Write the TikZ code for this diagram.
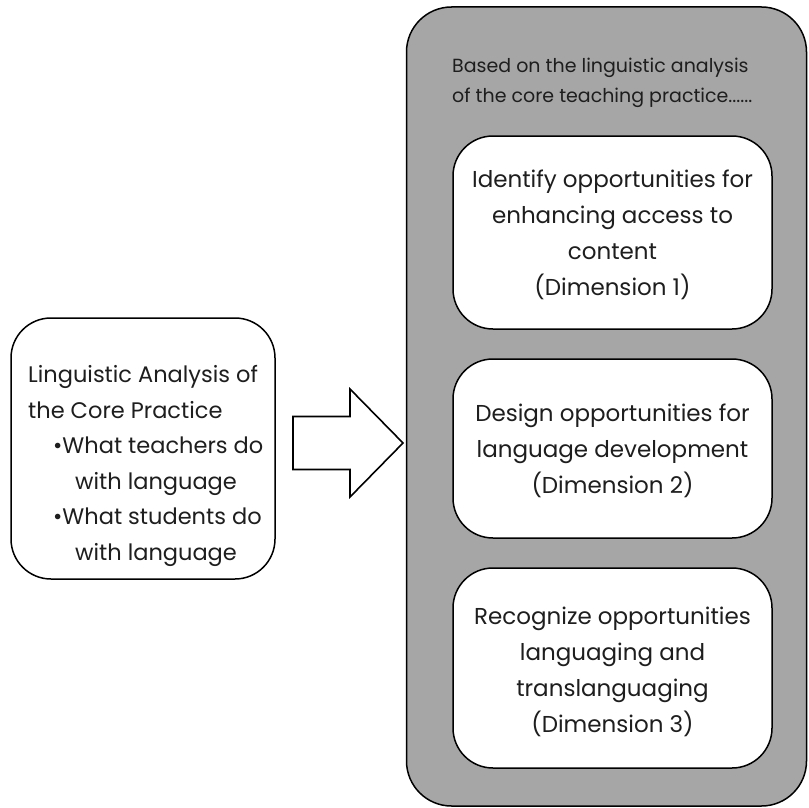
\documentclass[tikz,border=0pt]{standalone}
\usepackage{fontspec}
\setmainfont{Poppins}
\definecolor{panelgray}{HTML}{A6A6A6}
\definecolor{ink}{HTML}{1E1E1E}
\tikzset{
  panel/.style={draw=black, line width=1.5pt, fill=panelgray, rounded corners=45pt,
    inner sep=0pt},
  dimbox/.style={draw=black, line width=1.5pt, fill=white, rounded corners=40pt,
    minimum width=319pt, inner sep=0pt},
  srcbox/.style={draw=black, line width=1.5pt, fill=white, rounded corners=40pt,
    inner sep=0pt},
  boxtext/.style={align=center, text=ink, inner sep=0pt, anchor=base,
    font=\fontsize{23}{35.7}\selectfont},
  leadtext/.style={align=left, text=ink, inner sep=0pt, anchor=base west,
    font=\fontsize{19}{29}\selectfont},
  blockarrow/.style={draw=black, line width=1.6pt, fill=white, line join=miter}
}
\begin{document}
\begin{tikzpicture}[x=1pt, y=-1pt]
  \useasboundingbox (0,0) rectangle (808,808);

  % right-hand panel with the three dimensions
  \node[panel, minimum width=400pt, minimum height=799pt] (panel) at (606.5,406.5) {};
  \node[leadtext] (lead) at (452,102)
    {Based on the linguistic analysis\\of the core teaching practice......};

  \node[dimbox, minimum height=193pt] (dim1) at (612.5,232.5) {};
  \node[boxtext] (dim1t) at (612.5,295)
    {Identify opportunities for\\enhancing access to\\content\\(Dimension 1)};

  \node[dimbox, minimum height=179pt] (dim2) at (612.5,448.5) {};
  \node[boxtext] (dim2t) at (612.5,493)
    {Design opportunities for\\language development\\(Dimension 2)};

  \node[dimbox, minimum height=200pt] (dim3) at (612.5,668) {};
  \node[boxtext] (dim3t) at (612.5,732)
    {Recognize opportunities\\languaging and\\translanguaging\\(Dimension 3)};

  % source box on the left
  \node[srcbox, minimum width=264pt, minimum height=261pt] (src) at (143,448.5) {};
  \node[boxtext, align=left, anchor=base west,
        font=\fontsize{22.5}{35.5}\selectfont] (srct) at (28,560)
    {Linguistic Analysis of\\
     the Core Practice\\
     \hspace*{25pt}•What teachers do\\
     \hspace*{47pt}with language\\
     \hspace*{25pt}•What students do\\
     \hspace*{47pt}with language};

  % block arrow from the analysis to the panel
  \draw[blockarrow] (293,416.5) -- (350,416.5) -- (350,389) -- (403,443)
    -- (350,497) -- (350,469.5) -- (293,469.5) -- cycle;
\end{tikzpicture}
\end{document}
